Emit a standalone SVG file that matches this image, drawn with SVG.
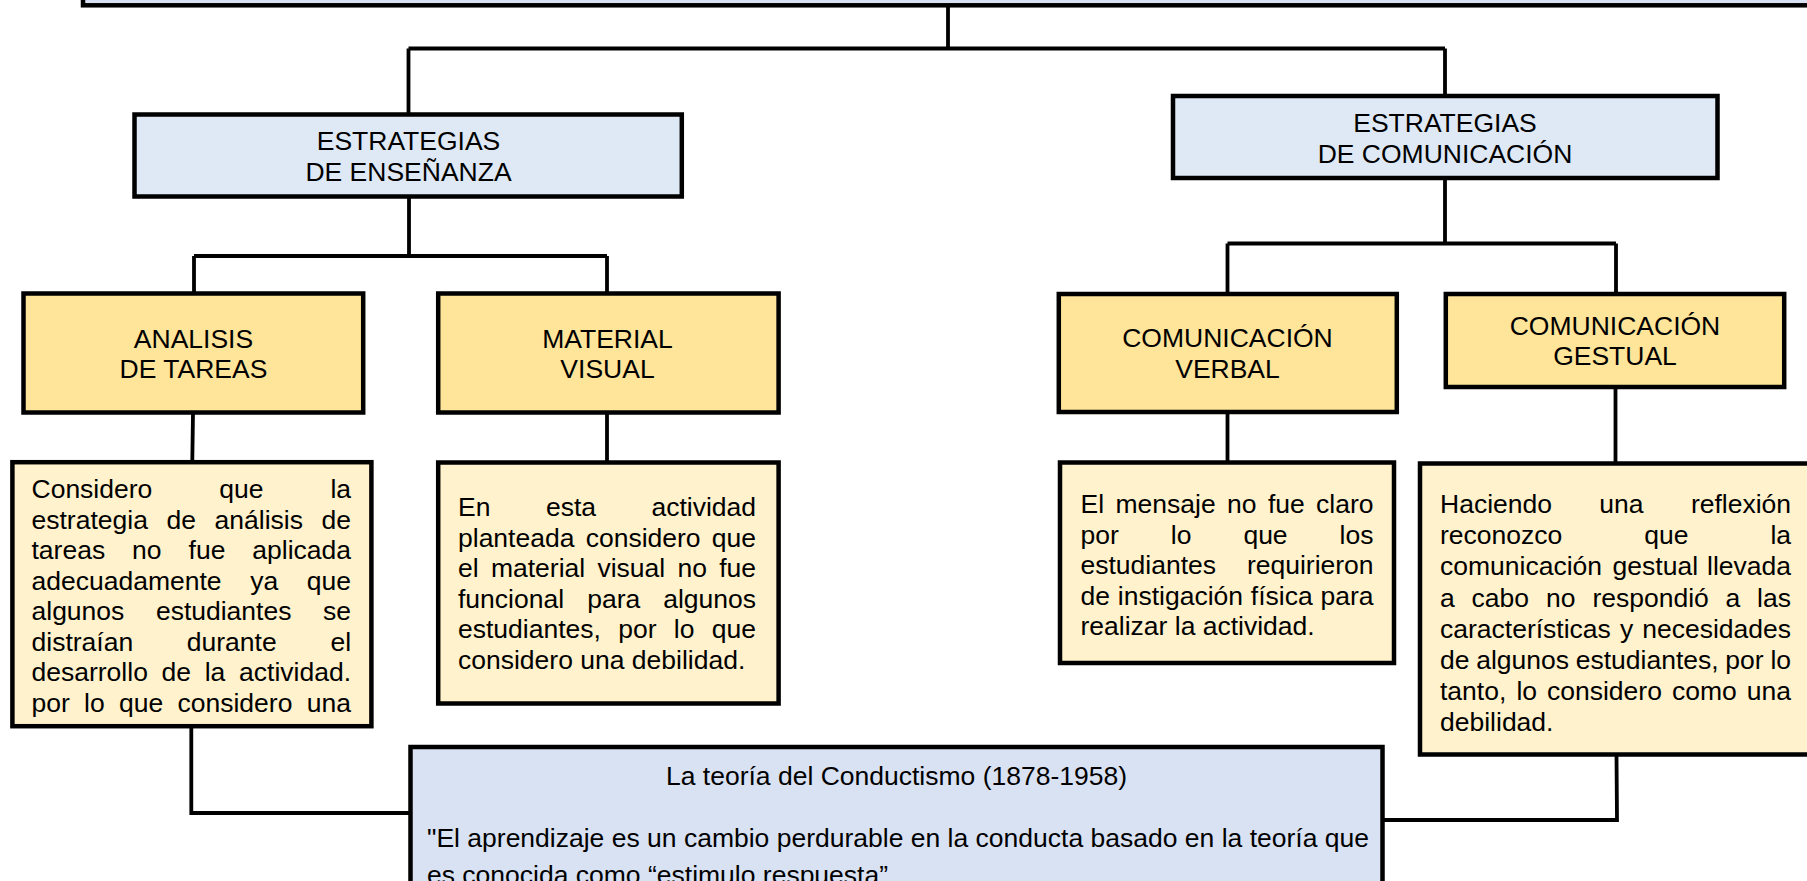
<svg xmlns="http://www.w3.org/2000/svg" width="1807" height="881" viewBox="0 0 1807 881">
<style>
text{font-family:"Liberation Sans",Arial,sans-serif;font-size:26.5px;fill:#000}
.c{text-anchor:middle}
.box{stroke:#000;stroke-width:4.5}
.hdr{fill:#dee9f5}
.yel{fill:#ffe599}
.txt{fill:#fff2cc}
.blu{fill:#d9e2f3}
.ln{stroke:#000;stroke-width:3.8;fill:none}
</style>
<rect width="1807" height="881" fill="#fff"/>
<g id="top"><rect class="box blu" x="83" y="-100" width="1800" height="105.3"/></g>
<g id="connectors">
<path class="ln" d="M948,5 V48.5 M408.5,48.5 H1445 M408.5,48.5 V113 M1445,48.5 V95"/>
<path class="ln" d="M409,197 V256 M194,256 H607 M194,256 V292 M607,256 V292"/>
<path class="ln" d="M1445,179 V243.5 M1227.5,243.5 H1616 M1227.5,243.5 V292 M1616,243.5 V292"/>
<path class="ln" d="M193,413 L192.3,461 M607,413 V461 M1227.5,413 V461 M1615.5,388 V462"/>
<path class="ln" d="M191.3,727 V813 H409 M1616.5,755 L1617,820 H1384"/>
</g>
<g id="ensenanza"><rect class="box hdr" x="134.5" y="114.5" width="547.3" height="82"/>
<text class="c" x="408.5" y="150">ESTRATEGIAS</text><text class="c" x="408.5" y="180.7">DE ENSEÑANZA</text></g>
<g id="comunicacion"><rect class="box hdr" x="1173" y="96" width="544.5" height="82"/>
<text class="c" x="1445" y="132.3">ESTRATEGIAS</text><text class="c" x="1445" y="163.3">DE COMUNICACIÓN</text></g>
<g id="analisis"><rect class="box yel" x="23.5" y="293.5" width="339.7" height="119"/>
<text class="c" x="193.5" y="347.7">ANALISIS</text><text class="c" x="193.5" y="378.3">DE TAREAS</text></g>
<g id="material"><rect class="box yel" x="438.2" y="293.5" width="340.4" height="119"/>
<text class="c" x="607.5" y="347.7">MATERIAL</text><text class="c" x="607.5" y="378.3">VISUAL</text></g>
<g id="verbal"><rect class="box yel" x="1058.8" y="294" width="338" height="118"/>
<text class="c" x="1227.5" y="346.7">COMUNICACIÓN</text><text class="c" x="1227.5" y="377.7">VERBAL</text></g>
<g id="gestual"><rect class="box yel" x="1445.8" y="294" width="338.4" height="93"/>
<text class="c" x="1615" y="335">COMUNICACIÓN</text><text class="c" x="1615" y="365">GESTUAL</text></g>
<g id="analisis-texto"><rect class="box txt" x="12.4" y="462.2" width="359" height="264"/>
<text y="498"><tspan x="31.5">Considero</tspan><tspan x="219.2">que</tspan><tspan x="330.4">la</tspan></text>
<text y="528.5"><tspan x="31.5">estrategia</tspan><tspan x="166.5">de</tspan><tspan x="214.6">análisis</tspan><tspan x="321.5">de</tspan></text>
<text y="559"><tspan x="31.5">tareas</tspan><tspan x="132.1">no</tspan><tspan x="188.6">fue</tspan><tspan x="252.3">aplicada</tspan></text>
<text y="589.5"><tspan x="31.5">adecuadamente</tspan><tspan x="250.2">ya</tspan><tspan x="306.8">que</tspan></text>
<text y="620"><tspan x="31.5">algunos</tspan><tspan x="155.9">estudiantes</tspan><tspan x="323">se</tspan></text>
<text y="650.5"><tspan x="31.5">distraían</tspan><tspan x="186.8">durante</tspan><tspan x="330.4">el</tspan></text>
<text y="681"><tspan x="31.5">desarrollo</tspan><tspan x="161.5">de</tspan><tspan x="204.7">la</tspan><tspan x="239.1">actividad.</tspan></text>
<text y="711.5"><tspan x="31.5">por</tspan><tspan x="84.1">lo</tspan><tspan x="119">que</tspan><tspan x="177.5">considero</tspan><tspan x="306.8">una</tspan></text>
</g>
<g id="material-texto"><rect class="box txt" x="438.2" y="462.5" width="340.4" height="241"/>
<text y="516"><tspan x="458">En</tspan><tspan x="545.9">esta</tspan><tspan x="651.4">actividad</tspan></text>
<text y="546.5"><tspan x="458">planteada</tspan><tspan x="585.7">considero</tspan><tspan x="711.8">que</tspan></text>
<text y="577"><tspan x="458">el</tspan><tspan x="490.9">material</tspan><tspan x="597.4">visual</tspan><tspan x="677.4">no</tspan><tspan x="719.2">fue</tspan></text>
<text y="607.5"><tspan x="458">funcional</tspan><tspan x="587.2">para</tspan><tspan x="663.2">algunos</tspan></text>
<text y="638"><tspan x="458">estudiantes,</tspan><tspan x="618.2">por</tspan><tspan x="673.8">lo</tspan><tspan x="711.8">que</tspan></text>
<text x="458" y="668.5">considero una debilidad.</text>
</g>
<g id="verbal-texto"><rect class="box txt" x="1060" y="462.5" width="334" height="200.5"/>
<text y="513"><tspan x="1080.5">El</tspan><tspan x="1115.5">mensaje</tspan><tspan x="1227">no</tspan><tspan x="1267.9">fue</tspan><tspan x="1316.1">claro</tspan></text>
<text y="543.5"><tspan x="1080.5">por</tspan><tspan x="1170.8">lo</tspan><tspan x="1243.4">que</tspan><tspan x="1339.6">los</tspan></text>
<text y="574"><tspan x="1080.5">estudiantes</tspan><tspan x="1246.9">requirieron</tspan></text>
<text y="604.5"><tspan x="1080.5">de</tspan><tspan x="1117.8">instigación</tspan><tspan x="1250.8">física</tspan><tspan x="1320.5">para</tspan></text>
<text x="1080.5" y="635">realizar la actividad.</text>
</g>
<g id="gestual-texto"><rect class="box txt" x="1420" y="463.5" width="500" height="291"/>
<text y="513"><tspan x="1440">Haciendo</tspan><tspan x="1599.3">una</tspan><tspan x="1690.9">reflexión</tspan></text>
<text y="544.2"><tspan x="1440">reconozco</tspan><tspan x="1644.2">que</tspan><tspan x="1770.4">la</tspan></text>
<text y="575.4"><tspan x="1440">comunicación</tspan><tspan x="1612.6">gestual</tspan><tspan x="1707">llevada</tspan></text>
<text y="606.6"><tspan x="1440">a</tspan><tspan x="1471.6">cabo</tspan><tspan x="1546">no</tspan><tspan x="1592.4">respondió</tspan><tspan x="1725.6">a</tspan><tspan x="1757.1">las</tspan></text>
<text y="637.8"><tspan x="1440">características</tspan><tspan x="1619.9">y</tspan><tspan x="1642.2">necesidades</tspan></text>
<text y="669"><tspan x="1440">de</tspan><tspan x="1476.2">algunos</tspan><tspan x="1575.7">estudiantes,</tspan><tspan x="1725.3">por</tspan><tspan x="1770.4">lo</tspan></text>
<text y="700.2"><tspan x="1440">tanto,</tspan><tspan x="1516.4">lo</tspan><tspan x="1547">considero</tspan><tspan x="1672">como</tspan><tspan x="1746.8">una</tspan></text>
<text x="1440" y="731.4">debilidad.</text>
</g>
<g id="conductismo"><rect class="box blu" x="410.5" y="747" width="972" height="200"/>
<text class="c" x="896.5" y="785">La teoría del Conductismo (1878-1958)</text>
<text x="427" y="847">"El aprendizaje es un cambio perdurable en la conducta basado en la teoría que</text>
<text x="427" y="884">es conocida como “estimulo respuesta”</text>
</g>
</svg>
